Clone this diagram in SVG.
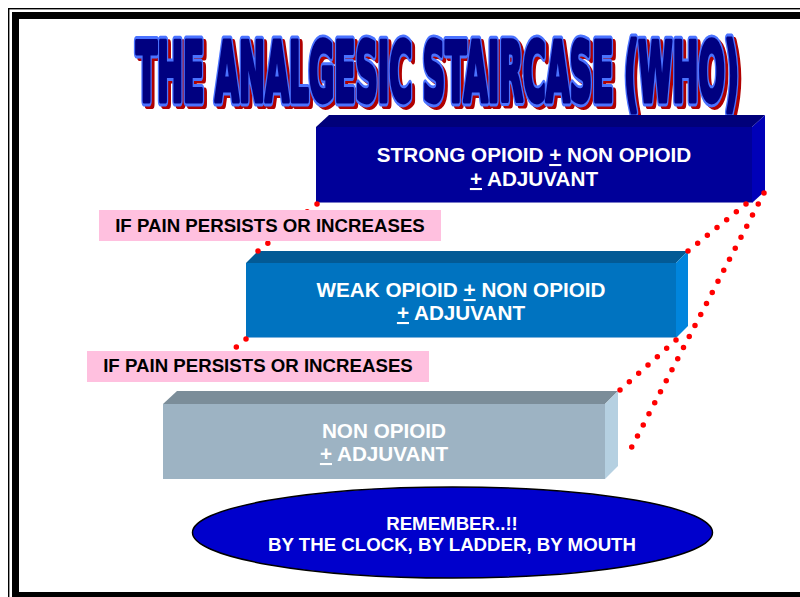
<svg xmlns="http://www.w3.org/2000/svg" xmlns:xlink="http://www.w3.org/1999/xlink" width="800" height="597" viewBox="0 0 800 597">
<style>
.step{font-family:"Liberation Sans",Arial,sans-serif;font-weight:bold;font-size:20.7px;fill:#ffffff;text-anchor:middle}
.lbl{font-family:"Liberation Sans",Arial,sans-serif;font-weight:bold;font-size:18.67px;fill:#000000;text-anchor:middle}
.rem{font-family:"Liberation Sans",Arial,sans-serif;font-weight:bold;font-size:18.67px;fill:#ffffff;text-anchor:middle}
.u{text-decoration:underline}
.dots{stroke:#ff0000;stroke-width:5.5;stroke-linecap:round;fill:none}
.ttl{font-family:"Liberation Sans Narrow","DejaVu Sans Condensed","Liberation Sans",sans-serif;font-weight:bold;font-size:42px;stroke-linejoin:round}
</style>
<defs>
  <text id="ttxt" class="ttl" x="0" y="0" textLength="603" lengthAdjust="spacingAndGlyphs">THE ANALGESIC STAIRCASE (WHO)</text>
</defs>
<rect width="800" height="597" fill="#ffffff"/>
<!-- frame -->
<rect x="8.7" y="8.7" width="820" height="620" fill="none" stroke="#000" stroke-width="1.4"/>
<rect x="15.5" y="15.5" width="820" height="580" fill="none" stroke="#000" stroke-width="7"/>

<g id="title">
  <use xlink:href="#ttxt" transform="translate(139,104) scale(1,1.96)" fill="#b00000" stroke="#b00000" stroke-width="5" vector-effect="non-scaling-stroke"/>
  <use xlink:href="#ttxt" transform="translate(136,101) scale(1,1.96)" fill="#000080" stroke="#4a72ff" stroke-width="5.5" vector-effect="non-scaling-stroke"/>
  <use xlink:href="#ttxt" transform="translate(136,101) scale(1,1.96)" fill="#000080" stroke="#000080" stroke-width="2.5" vector-effect="non-scaling-stroke"/>
</g>

<g id="step-strong">
  <polygon points="316,127 329,115 765,115 752,127" fill="#00007a"/>
  <polygon points="752,127 765,115 765,191 752,203" fill="#0000b8"/>
  <rect x="316" y="127" width="436" height="76" fill="#000099"/>
  <line x1="316" y1="202.5" x2="752" y2="202.5" stroke="#7a7ac8" stroke-width="1"/>
  <text class="step" x="534" y="162">STRONG OPIOID <tspan class="u">+</tspan> NON OPIOID</text>
  <text class="step" x="534" y="186"><tspan class="u">+</tspan> ADJUVANT</text>
</g>

<g id="step-weak">
  <polygon points="246,263 258,251 688,251 676,263" fill="#035a95"/>
  <polygon points="676,263 688,251 688,326 676,338" fill="#0085dd"/>
  <rect x="246" y="263" width="430" height="75" fill="#0073c0"/>
  <line x1="246" y1="337.5" x2="676" y2="337.5" stroke="#7fb3dd" stroke-width="1"/>
  <text class="step" x="461" y="297">WEAK OPIOID <tspan class="u">+</tspan> NON OPIOID</text>
  <text class="step" x="461" y="320"><tspan class="u">+</tspan> ADJUVANT</text>
</g>

<g id="step-non">
  <polygon points="163,404 177,391 618,391 605,404" fill="#7b8d99"/>
  <polygon points="605,404 618,391 618,466 605,479" fill="#b5d0e1"/>
  <rect x="163" y="404" width="442" height="75" fill="#9db3c3"/>
  <text class="step" x="384" y="438">NON OPIOID</text>
  <text class="step" x="384" y="461"><tspan class="u">+</tspan> ADJUVANT</text>
</g>

<g id="connectors">
  <line class="dots" x1="317" y1="204" x2="258" y2="251" stroke-dasharray="0 12.57"/>
  <line class="dots" x1="246" y1="339" x2="188" y2="387" stroke-dasharray="0 12.55"/>
  <line class="dots" x1="746" y1="204" x2="688" y2="251" stroke-dasharray="0 12.44"/>
  <line class="dots" x1="676" y1="340" x2="620" y2="390" stroke-dasharray="0 12.51"/>
  <line class="dots" x1="764" y1="193" x2="626" y2="458" stroke-dasharray="0 12.45"/>
</g>

<g id="label-1">
  <rect x="99" y="210" width="342" height="31" fill="#ffc0df"/>
  <text class="lbl" x="270" y="232">IF PAIN PERSISTS OR INCREASES</text>
</g>

<g id="label-2">
  <rect x="87" y="351" width="342" height="31" fill="#ffc0df"/>
  <text class="lbl" x="258" y="372">IF PAIN PERSISTS OR INCREASES</text>
</g>

<g id="remember">
  <ellipse cx="452.5" cy="532.5" rx="260" ry="45.5" fill="#0000cc" stroke="#000" stroke-width="1.5"/>
  <text class="rem" x="452" y="530">REMEMBER..!!</text>
  <text class="rem" x="452" y="551">BY THE CLOCK, BY LADDER, BY MOUTH</text>
</g>
</svg>
